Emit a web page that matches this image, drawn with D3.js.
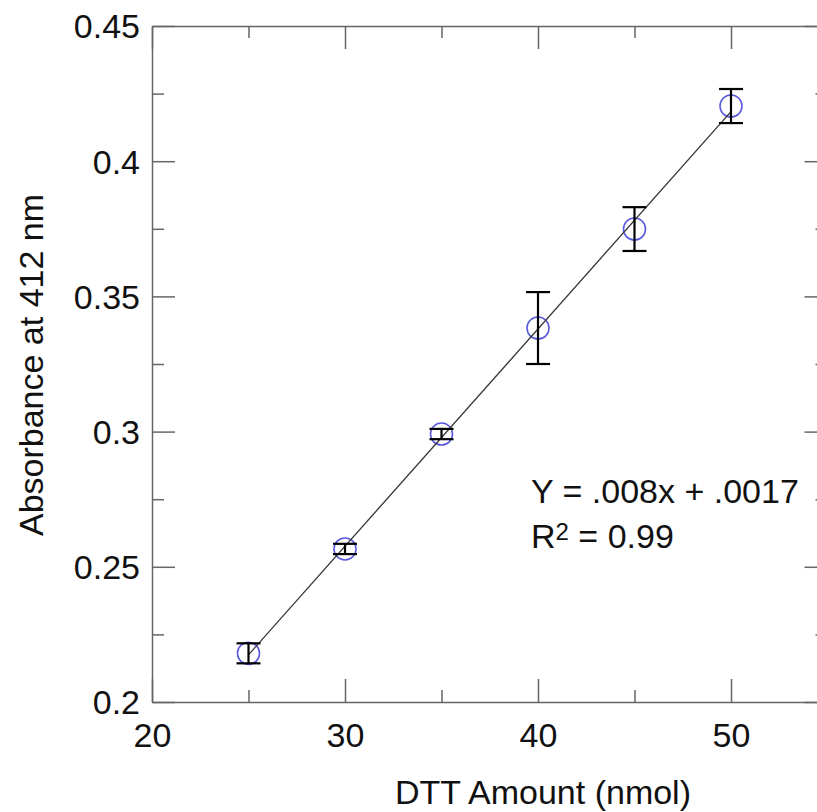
<!DOCTYPE html>
<html>
<head>
<meta charset="utf-8">
<script src="https://cdn.jsdelivr.net/npm/d3@7"></script>
<style>
  body { margin: 0; background: #fff; }
  svg { display: block; font-family: "Liberation Sans", Arial, sans-serif; }
  .axis path, .axis line { stroke: #666; stroke-width: 1.5; }
  .axis text { fill: #111; font-size: 34px; }
</style>
</head>
<body>
<div id="chart"></div>
<script>
// DTT standard curve
var dtt = [25, 30, 35, 40, 45, 50];
var absorbance = [0.218, 0.2566, 0.2991, 0.3383, 0.3749, 0.4204];
var errors = [0.0037, 0.0019, 0.0019, 0.0133, 0.0081, 0.0063];

var xMajor = [20, 30, 40, 50];
var xMinor = [25, 35, 45, 55];
var yMajor = [0.2, 0.25, 0.3, 0.35, 0.4, 0.45];
var yMinor = [0.225, 0.275, 0.325, 0.375, 0.425];

var eqLines = ["Y = .008x + .0017", "R", "2", " = 0.99"];

var width = 817, height = 812;
var margin = { top: 26, left: 152 };
var plotW = 675.5, plotH = 676;

var svg = d3.select("#chart")
  .append("svg")
  .attr("width", width)
  .attr("height", height);

var g = svg.append("g")
  .attr("transform", "translate(" + margin.left + "," + margin.top + ")");

var x = d3.scaleLinear().domain([20, 55]).range([0, plotW]);
var y = d3.scaleLinear().domain([0.2, 0.45]).range([plotH, 0]);

// frame + ticks on all four sides, pointing inward
function drawAxis(axisFn, scale, major, minor, transform, labels) {
  var a = g.append("g").attr("class", "axis").attr("transform", transform);
  a.call(axisFn(scale).tickValues(major).tickSizeInner(-23).tickSizeOuter(0)
    .tickPadding(labels ? 12 : 0)
    .tickFormat(labels ? d3.format("") : ""));
  var m = g.append("g").attr("class", "axis").attr("transform", transform);
  m.call(axisFn(scale).tickValues(minor).tickSizeInner(-12).tickSizeOuter(0).tickFormat(""));
  m.select(".domain").remove();
  return a;
}

var bottom = drawAxis(d3.axisBottom, x, xMajor, xMinor, "translate(0," + plotH + ")", true);
bottom.selectAll("text").attr("dy", "0.98em");
drawAxis(d3.axisTop, x, xMajor, xMinor, "translate(0,0)", false);
var left = drawAxis(d3.axisLeft, y, yMajor, yMinor, "translate(0,0)", true);
left.selectAll("text").attr("dy", "0.35em");
drawAxis(d3.axisRight, y, yMajor, yMinor, "translate(" + plotW + ",0)", false);

// least-squares fit line
var pts = dtt.map(function(d, i) { return [d, absorbance[i]]; });
var mx = d3.mean(dtt), my = d3.mean(absorbance);
var sxy = d3.sum(pts, function(p) { return (p[0] - mx) * (p[1] - my); });
var sxx = d3.sum(dtt, function(d) { return (d - mx) * (d - mx); });
var slope = sxy / sxx, intercept = my - slope * mx;
var xExt = d3.extent(dtt);

g.selectAll("circle.pt")
  .data(pts)
  .enter()
  .append("circle")
  .attr("class", "pt")
  .attr("cx", function(d) { return x(d[0]); })
  .attr("cy", function(d) { return y(d[1]); })
  .attr("r", 11)
  .attr("fill", "none")
  .attr("stroke", "#5a5ae0")
  .attr("stroke-width", 1.6);

g.append("line")
  .attr("x1", x(xExt[0])).attr("y1", y(slope * xExt[0] + intercept))
  .attr("x2", x(xExt[1])).attr("y2", y(slope * xExt[1] + intercept))
  .attr("stroke", "#333")
  .attr("stroke-width", 1.3);

// error bars
var bars = g.selectAll("g.err")
  .data(pts)
  .enter()
  .append("g")
  .attr("class", "err")
  .attr("stroke", "#000")
  .attr("stroke-width", 2.2);

bars.append("line")
  .attr("x1", function(d) { return x(d[0]); })
  .attr("x2", function(d) { return x(d[0]); })
  .attr("y1", function(d, i) { return y(d[1] + errors[i]); })
  .attr("y2", function(d, i) { return y(d[1] - errors[i]); });

[1, -1].forEach(function(s) {
  bars.append("line")
    .attr("x1", function(d) { return x(d[0]) - 12; })
    .attr("x2", function(d) { return x(d[0]) + 12; })
    .attr("y1", function(d, i) { return y(d[1] + s * errors[i]); })
    .attr("y2", function(d, i) { return y(d[1] + s * errors[i]); });
});

// equation text
var eq = svg.append("g").attr("font-size", 34).attr("fill", "#111");
eq.append("text").attr("x", 531).attr("y", 503).text(eqLines[0]);
var r2 = eq.append("text").attr("x", 531).attr("y", 548);
r2.append("tspan").text(eqLines[1]);
r2.append("tspan").attr("font-size", 24).attr("dy", -8).text(eqLines[2]);
r2.append("tspan").attr("dy", 8).text(eqLines[3]);

// axis titles
svg.append("text")
  .attr("x", 543).attr("y", 804)
  .attr("text-anchor", "middle")
  .attr("font-size", 34)
  .attr("fill", "#111")
  .text("DTT Amount (nmol)");

svg.append("text")
  .attr("transform", "translate(43,365) rotate(-90)")
  .attr("text-anchor", "middle")
  .attr("font-size", 34)
  .attr("fill", "#111")
  .text("Absorbance at 412 nm");
</script>
</body>
</html>
